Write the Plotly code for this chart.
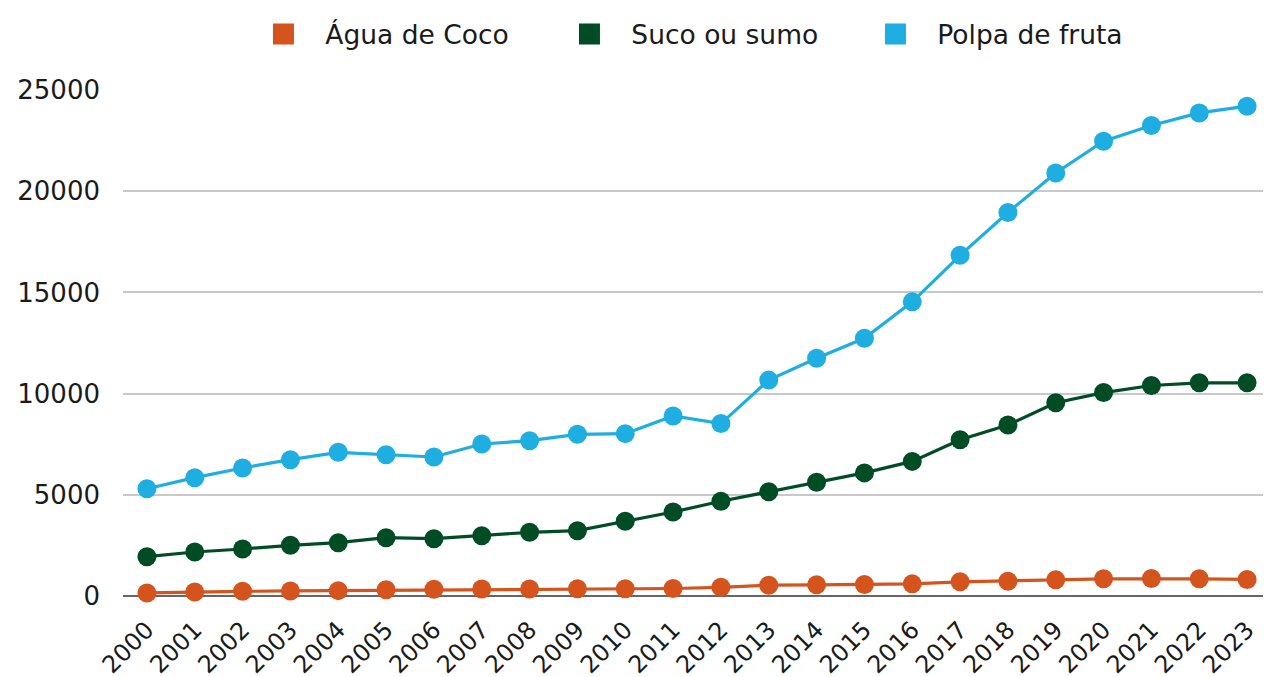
import plotly.graph_objects as go

years = [str(y) for y in range(2000, 2024)]
agua_de_coco = [150, 200, 230, 250, 265, 310, 330, 345, 350, 360, 362, 370,
                430, 533, 550, 567, 600, 700, 733, 800, 850, 867, 850, 817]
suco_ou_sumo = [1943, 2174, 2322, 2503, 2635, 2882, 2833, 2981, 3146, 3228, 3689, 4150,
                4680, 5150, 5617, 6083, 6650, 7717, 8450, 9550, 10050, 10400, 10533, 10533]
polpa_de_fruta = [5300, 5847, 6325, 6736, 7099, 6983, 6868, 7510, 7675, 7988, 8021, 8894,
                  8520, 10667, 11750, 12733, 14533, 16833, 18950, 20900, 22467, 23250, 23867, 24200]
y_ticks = [0, 5000, 10000, 15000, 20000, 25000]

series = [
    ("Água de Coco", agua_de_coco, "#D5541E"),
    ("Suco ou sumo", suco_ou_sumo, "#004D25"),
    ("Polpa de fruta", polpa_de_fruta, "#1FAEE2"),
]

FONT = "DejaVu Sans"
fig = go.Figure()
for name, vals, col in series:
    fig.add_trace(go.Scatter(
        x=years, y=vals, mode="lines+markers", name=name, showlegend=False,
        line=dict(color=col, width=3.2), marker=dict(color=col, size=19),
        cliponaxis=False,
    ))
for name, vals, col in series:
    fig.add_trace(go.Scatter(
        x=[None], y=[None], mode="markers", name="\u00a0\u00a0" + name, showlegend=True,
        marker=dict(color=col, size=16, symbol="square", line=dict(color=col, width=5)),
    ))

fig.update_layout(
    width=1271, height=677,
    margin=dict(l=115, r=8, t=82, b=89, autoexpand=False),
    paper_bgcolor="white", plot_bgcolor="white",
    font=dict(family=FONT, size=24, color="#1a1a1a"),
    legend=dict(orientation="h", x=0.118, xanchor="left", y=1.11, yanchor="middle",
                font=dict(size=26.5, family=FONT), itemwidth=40,
                traceorder="normal", entrywidth=251),
    xaxis=dict(type="category", range=[-0.5, 23.5], tickangle=-45, showgrid=False,
               tickfont=dict(size=24), showline=False, zeroline=False, ticks="",
               ticklabelstandoff=14),
    yaxis=dict(range=[0, 25000], tickvals=y_ticks, ticktext=[str(v) for v in y_ticks],
               showgrid=True, gridcolor="#c8c8c8", gridwidth=2, zeroline=True,
               zerolinecolor="#666666", zerolinewidth=2, ticks="", ticklabelstandoff=22,
               tickfont=dict(size=26)),
)
fig.write_html("out.html")
